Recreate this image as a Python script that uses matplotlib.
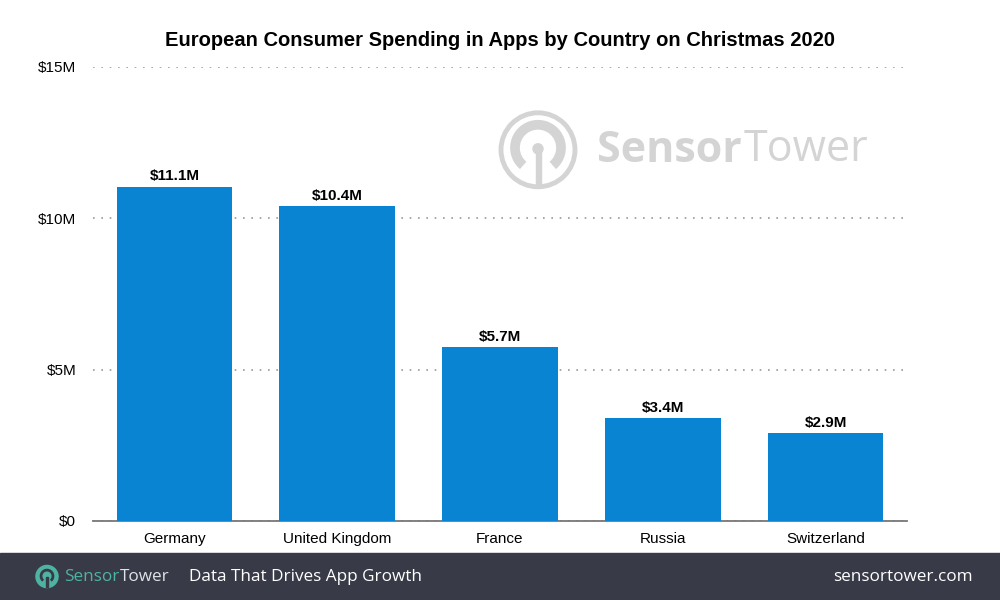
import matplotlib.pyplot as plt
from matplotlib.patches import Circle, Arc, Rectangle

# === Data ===
countries = ["Germany", "United Kingdom", "France", "Russia", "Switzerland"]
spending = [11.05, 10.4, 5.75, 3.4, 2.9]
bar_labels = ["$11.1M", "$10.4M", "$5.7M", "$3.4M", "$2.9M"]
yticks = [0, 5, 10, 15]
ytick_labels = ["$0", "$5M", "$10M", "$15M"]

plt.rcParams["font.family"] = ["Liberation Sans", "DejaVu Sans"]

BLUE = "#0984d3"
WM = "#d4d4d4"
TEAL = "#4eb3a3"
OPEN = ["Open Sans", "DejaVu Sans"]

fig = plt.figure(figsize=(10, 6), dpi=100)
fig.patch.set_facecolor("white")

# === Main chart ===
ax = fig.add_axes([0.093, 0.1317, 0.814, 0.7567], zorder=2)
x = range(len(countries))
bars = ax.bar(x, spending, width=0.71, color=BLUE, zorder=3)
for b, lab in zip(bars, bar_labels):
    ax.text(b.get_x() + b.get_width() / 2, b.get_height() + 0.1, lab,
            ha="center", va="bottom", fontsize=11, fontweight="bold", zorder=4)

ax.set_xlim(-0.5, len(countries) - 0.5)
ax.set_ylim(0, 15)
ax.set_yticks(yticks)
ax.set_yticklabels(ytick_labels, fontsize=11)
ax.set_xticks(list(x))
ax.set_xticklabels(countries, fontsize=11)
ax.tick_params(axis="both", length=0)
ax.tick_params(axis="y", pad=12)
ax.tick_params(axis="x", pad=8)
ax.grid(axis="y", linestyle=(0, (1, 4)), color="#999999", linewidth=1.2, zorder=0)
for s in ["top", "right", "left"]:
    ax.spines[s].set_visible(False)
ax.spines["bottom"].set_color("#777777")
ax.spines["bottom"].set_linewidth(1.3)
ax.set_facecolor("none")

fig.text(0.5, 0.933, "European Consumer Spending in Apps by Country on Christmas 2020",
         ha="center", va="center", fontsize=14.5, fontweight="bold")

# === Watermark logo ===
lax = fig.add_axes([0.488, 0.667, 0.1, 0.1667], zorder=0)
lax.set_xlim(-50, 50)
lax.set_ylim(-50, 50)
lax.set_aspect("equal")
lax.axis("off")
lax.add_patch(Circle((0, 0), 37, fill=False, ec=WM, lw=3.5))
lax.add_patch(Arc((0, 2), 46, 46, theta1=-50, theta2=230, ec=WM, lw=7))
lax.add_patch(Circle((0, 1), 5, color=WM))
lax.add_patch(Rectangle((-2.5, -37), 5, 38, color=WM))
t1 = fig.text(0.597, 0.75, "Sensor", fontsize=31, fontweight="bold", color=WM,
              ha="left", va="center", family=OPEN)
lax.annotate("Tower", xy=(1, 0.5), xycoords=t1, xytext=(1, 0), textcoords="offset points",
             fontsize=31, color=WM, ha="left", va="center", family=OPEN,
             annotation_clip=False)

# === Footer ===
fig.patches.append(Rectangle((0, 0), 1, 0.0783, transform=fig.transFigure,
                             color="#383b47", zorder=-1))
fax = fig.add_axes([0.03, 0.0, 0.034, 0.0783])
fax.set_xlim(-20, 20)
fax.set_ylim(-20, 20)
fax.set_aspect("equal")
fax.axis("off")
fax.add_patch(Circle((0, 0), 13, color=TEAL))
fax.add_patch(Arc((0, 0.5), 14, 14, theta1=-50, theta2=230, ec="#383b47", lw=2))
fax.add_patch(Rectangle((-0.8, -12), 1.6, 12, color="#383b47"))
f1 = fig.text(0.064, 0.039, "Sensor", fontsize=12.3, color=TEAL, va="center", ha="left",
              family=OPEN)
fax.annotate("Tower", xy=(1, 0.5), xycoords=f1, xytext=(0.5, 0), textcoords="offset points",
             fontsize=12.3, color="#dfe3e6", ha="left", va="center", family=OPEN,
             annotation_clip=False)
fig.text(0.189, 0.039, "Data That Drives App Growth", fontsize=12.3, color="white",
         va="center", ha="left", family=OPEN)
fig.text(0.973, 0.039, "sensortower.com", fontsize=12.3, color="white",
         va="center", ha="right", family=OPEN)

plt.savefig("out.png", dpi=100)
